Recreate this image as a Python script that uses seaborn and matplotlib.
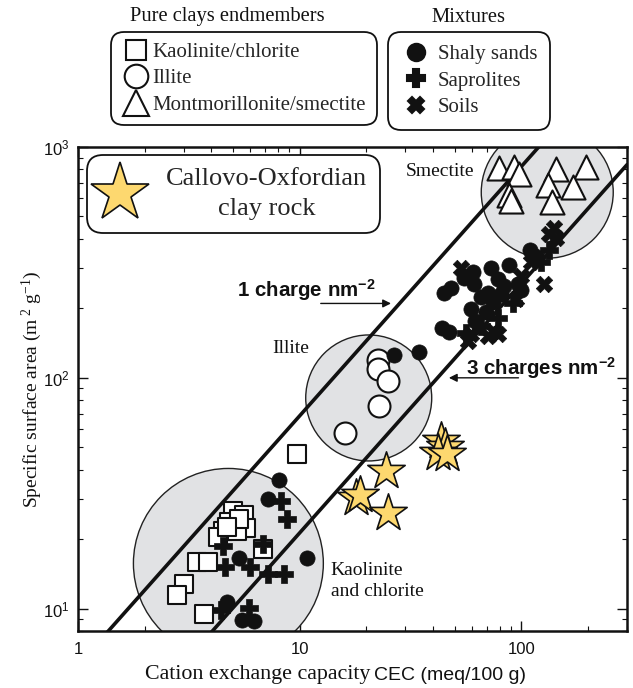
import numpy as np
import pandas as pd
import matplotlib
matplotlib.use("Agg")
import matplotlib.pyplot as plt
import seaborn as sns
from matplotlib.lines import Line2D
from matplotlib.ticker import FuncFormatter, NullFormatter

# Estilo general
sns.set_theme(style="ticks")
plt.rcParams['font.family'] = ['Liberation Serif', 'DejaVu Serif']
plt.rcParams['mathtext.fontset'] = 'custom'
plt.rcParams['mathtext.rm'] = 'Liberation Serif'
plt.rcParams['mathtext.it'] = 'Liberation Serif:italic'
plt.rcParams['mathtext.sf'] = 'Liberation Sans'
plt.rcParams['mathtext.bf'] = 'Liberation Sans:bold'

# Datos (CEC en meq/100 g, superficie en m2/g)
kaol_cec = [9.7, 5.0, 5.6, 5.7, 4.8, 4.5, 4.3, 5.2, 6.8, 3.45, 3.85, 3.0, 2.8, 3.7, 5.3, 4.7]
kaol_ssa = [47, 26.4, 25.4, 22.3, 23.7, 21.6, 20.4, 21.6, 18.1, 16, 16, 12.8, 11.4, 9.5, 24.4, 22.5]

illite_cec = [22.5, 22.5, 25, 22.7, 16]
illite_ssa = [119, 109, 97, 75.5, 57.7]

smec_cec = [79.5, 93, 98, 88, 90, 144, 195, 132, 172, 137]
smec_ssa = [811, 819, 764, 618, 582, 802, 819, 684, 670, 577]

shaly_cec = [8.1, 7.2, 10.8, 5.3, 4.7, 5.5, 6.2, 26.6, 34.5,
             44.8, 48.2, 55.2, 60.6, 73.2, 88.3, 109, 115, 61.3, 65.9, 70.9,
             74.7, 59.4, 69.5, 83.8, 96.9, 100, 81.2, 43.9, 47.2, 61.9, 78.7]
shaly_ssa = [36, 29.8, 16.5, 16.5, 10.7, 8.96, 8.87, 125, 130,
             232, 244, 272, 286, 298, 307, 357, 336, 254, 223, 234,
             212, 199, 192, 251, 256, 239, 230, 165, 158, 177, 269]

sapro_cec = [8.2, 8.8, 4.5, 6.8, 4.6, 6.0, 7.2, 8.5, 4.4, 5.9, 92, 78.7, 65.9, 56.4, 123, 134]
sapro_ssa = [29.2, 24.4, 18.6, 19.0, 15.1, 15.1, 14.1, 14.1, 9.9, 10.1, 210, 181, 168, 157, 316, 357]

soil_cec = [53.5, 127, 140, 134, 144, 74.7, 70.9, 78.7, 57.5, 59.4, 111, 100, 95]
soil_ssa = [298, 256, 444, 419, 402, 160, 152, 155, 145, 155, 316, 275, 220]

cox_cec = [43.4, 45.3, 42.1, 46, 24.5, 17.9, 18.7, 25.0]
cox_ssa = [53.2, 50.1, 47.2, 47, 39.4, 30.1, 31, 25.9]

# Zonas (circulos grises) de cada arcilla pura
zone_cec = [4.77, 20.5, 131]
zone_ssa = [15.7, 81.8, 637]
zone_size = [18700, 8230, 9030]

# Rectas de densidad de carga: S = a * CEC^b
line_coef = [5.69, 1.77]
line_exp = 1.08

fig = plt.figure(figsize=(6.33, 6.88), dpi=100)
ax = fig.add_axes([78/633, 1-631/688, 549/633, 484/688])

# Circulos grises
sns.scatterplot(x=zone_cec, y=zone_ssa, s=zone_size, color='#e1e2e4',
                edgecolor='#222222', linewidth=1.0, ax=ax, zorder=1, legend=False)

# Rectas de 1 y 3 cargas por nm2
cec_line = np.logspace(0, np.log10(300), 200)
for a in line_coef:
    ax.plot(cec_line, a * cec_line**line_exp, color='#111111', lw=2.6, zorder=2)

# Puntos
sns.scatterplot(x=kaol_cec, y=kaol_ssa, marker='s', s=169, color='white',
                edgecolor='#111111', linewidth=1.5, ax=ax, zorder=3)
sns.scatterplot(x=illite_cec, y=illite_ssa, marker='o', s=250, color='white',
                edgecolor='#111111', linewidth=1.5, ax=ax, zorder=3)
sns.scatterplot(x=smec_cec, y=smec_ssa, marker='^', s=300, color='white',
                edgecolor='#111111', linewidth=1.5, ax=ax, zorder=3)
sns.scatterplot(x=shaly_cec, y=shaly_ssa, marker='o', s=120, color='#111111',
                edgecolor='#111111', linewidth=0.5, ax=ax, zorder=4)
sns.scatterplot(x=sapro_cec, y=sapro_ssa, marker='P', s=150, color='#111111',
                edgecolor='#111111', linewidth=0.5, ax=ax, zorder=4)
sns.scatterplot(x=soil_cec, y=soil_ssa, marker='X', s=140, color='#111111',
                edgecolor='#111111', linewidth=0.5, ax=ax, zorder=4)
sns.scatterplot(x=cox_cec, y=cox_ssa, marker='*', s=800, color='#fdd86f',
                edgecolor='#111111', linewidth=1.2, ax=ax, zorder=5)

ax.set(xscale='log', yscale='log', xlim=(1, 300), ylim=(8, 1000))
ax.xaxis.set_major_formatter(FuncFormatter(lambda v, p: '%g' % v))
ax.yaxis.set_major_formatter(FuncFormatter(lambda v, p: r'$\mathsf{10^{%d}}$' % round(np.log10(v))))
ax.xaxis.set_minor_formatter(NullFormatter())
ax.yaxis.set_minor_formatter(NullFormatter())
ax.tick_params(which='both', direction='in', top=True, right=True, color='#111111',
               labelsize=12, labelfontfamily='Liberation Sans', labelcolor='#111111')
ax.tick_params(which='major', length=7, width=1.0, pad=6)
ax.tick_params(axis='x', which='major', pad=8)
ax.tick_params(which='minor', length=3.5, width=0.8)
for sp in ax.spines.values():
    sp.set_linewidth(1.8)
    sp.set_color('#111111')

# Etiquetas de ejes
ax.set_ylabel('Specific surface area (m$^{\\ 2}$ g$^{-1}$)', fontsize=14, labelpad=-1, color='#111111')
fig.text(370/633, 1-675/688, 'Cation exchange capacity', fontsize=15.8, ha='right', va='center', color='#111111')
fig.text(374/633, 1-675/688, 'CEC (meq/100 g)', fontsize=14, ha='left', va='center',
         family='Liberation Sans', color='#111111')

# Textos dentro del grafico
ax.text(61.3, 787, 'Smectite', fontsize=14, ha='right', va='center', color='#111111')
ax.text(11.0, 134, 'Illite', fontsize=14, ha='right', va='center', color='#111111')
ax.text(13.8, 13.2, 'Kaolinite\nand chlorite', fontsize=14, ha='left', va='center',
        linespacing=1.35, color='#111111')
ax.text(5.19, 239, r'1 charge nm$^{\mathbf{-2}}$', fontsize=14.8, weight='bold',
        family='Liberation Sans', ha='left', va='center', color='#111111')
ax.text(56.4, 110, r'3 charges nm$^{\mathbf{-2}}$', fontsize=14.8, weight='bold',
        family='Liberation Sans', ha='left', va='center', color='#111111')
ax.annotate('', xy=(26.6, 210), xytext=(12.1, 210),
            arrowprops=dict(arrowstyle='-|>', lw=1.0, color='#111111', mutation_scale=12))
ax.annotate('', xy=(45.8, 100), xytext=(100, 100),
            arrowprops=dict(arrowstyle='-|>', lw=1.0, color='#111111', mutation_scale=12))

# Leyendas
def mk(marker, fc, ms):
    return Line2D([], [], marker=marker, ls='none', mfc=fc, mec='#111111', mew=1.5, ms=ms)

leg_kw = dict(loc='upper left', bbox_transform=fig.transFigure, borderaxespad=0,
              frameon=True, fancybox=True, edgecolor='#111111', framealpha=1,
              handlelength=1.4, handletextpad=0.1, borderpad=0.5, labelspacing=0.33,
              prop={'family': 'Liberation Serif', 'size': 15})

leg1 = fig.legend([mk('s', 'white', 15), mk('o', 'white', 17), mk('^', 'white', 19)],
                  ['Kaolinite/chlorite', 'Illite', 'Montmorillonite/smectite'],
                  bbox_to_anchor=(111/633, 1-32/688), **leg_kw)
leg2_kw = dict(leg_kw)
leg2_kw.update(handlelength=1.5, handletextpad=0.3, borderpad=0.6)
leg2 = fig.legend([mk('o', '#111111', 12.5), mk('P', '#111111', 13), mk('X', '#111111', 12)],
                  ['Shaly sands', 'Saprolites', 'Soils'],
                  bbox_to_anchor=(388/633, 1-32/688), **leg2_kw)
star_kw = dict(leg_kw)
star_kw.update(prop={'family': 'Liberation Serif', 'size': 19}, handletextpad=1.0,
               handlelength=1.5, borderpad=0.5)
leg3 = fig.legend([Line2D([], [], marker='*', ls='none', mfc='#fdd86f', mec='#111111', mew=1.2, ms=44)],
                  ['Callovo-Oxfordian\nclay rock'],
                  bbox_to_anchor=(87/633, 1-155/688), **star_kw)
leg3.get_texts()[0].set_multialignment('center')
leg3.get_texts()[0].set_linespacing(1.45)
for lg in (leg1, leg2, leg3):
    lg.get_frame().set_boxstyle('round,pad=0,rounding_size=0.6')
    lg.get_frame().set_linewidth(1.3)

fig.text(227/633, 1-17/688, 'Pure clays endmembers', fontsize=14.8, ha='center', va='center', color='#111111')
fig.text(468/633, 1-17/688, 'Mixtures', fontsize=14.8, ha='center', va='center', color='#111111')

fig.savefig('out.png', dpi=100)
